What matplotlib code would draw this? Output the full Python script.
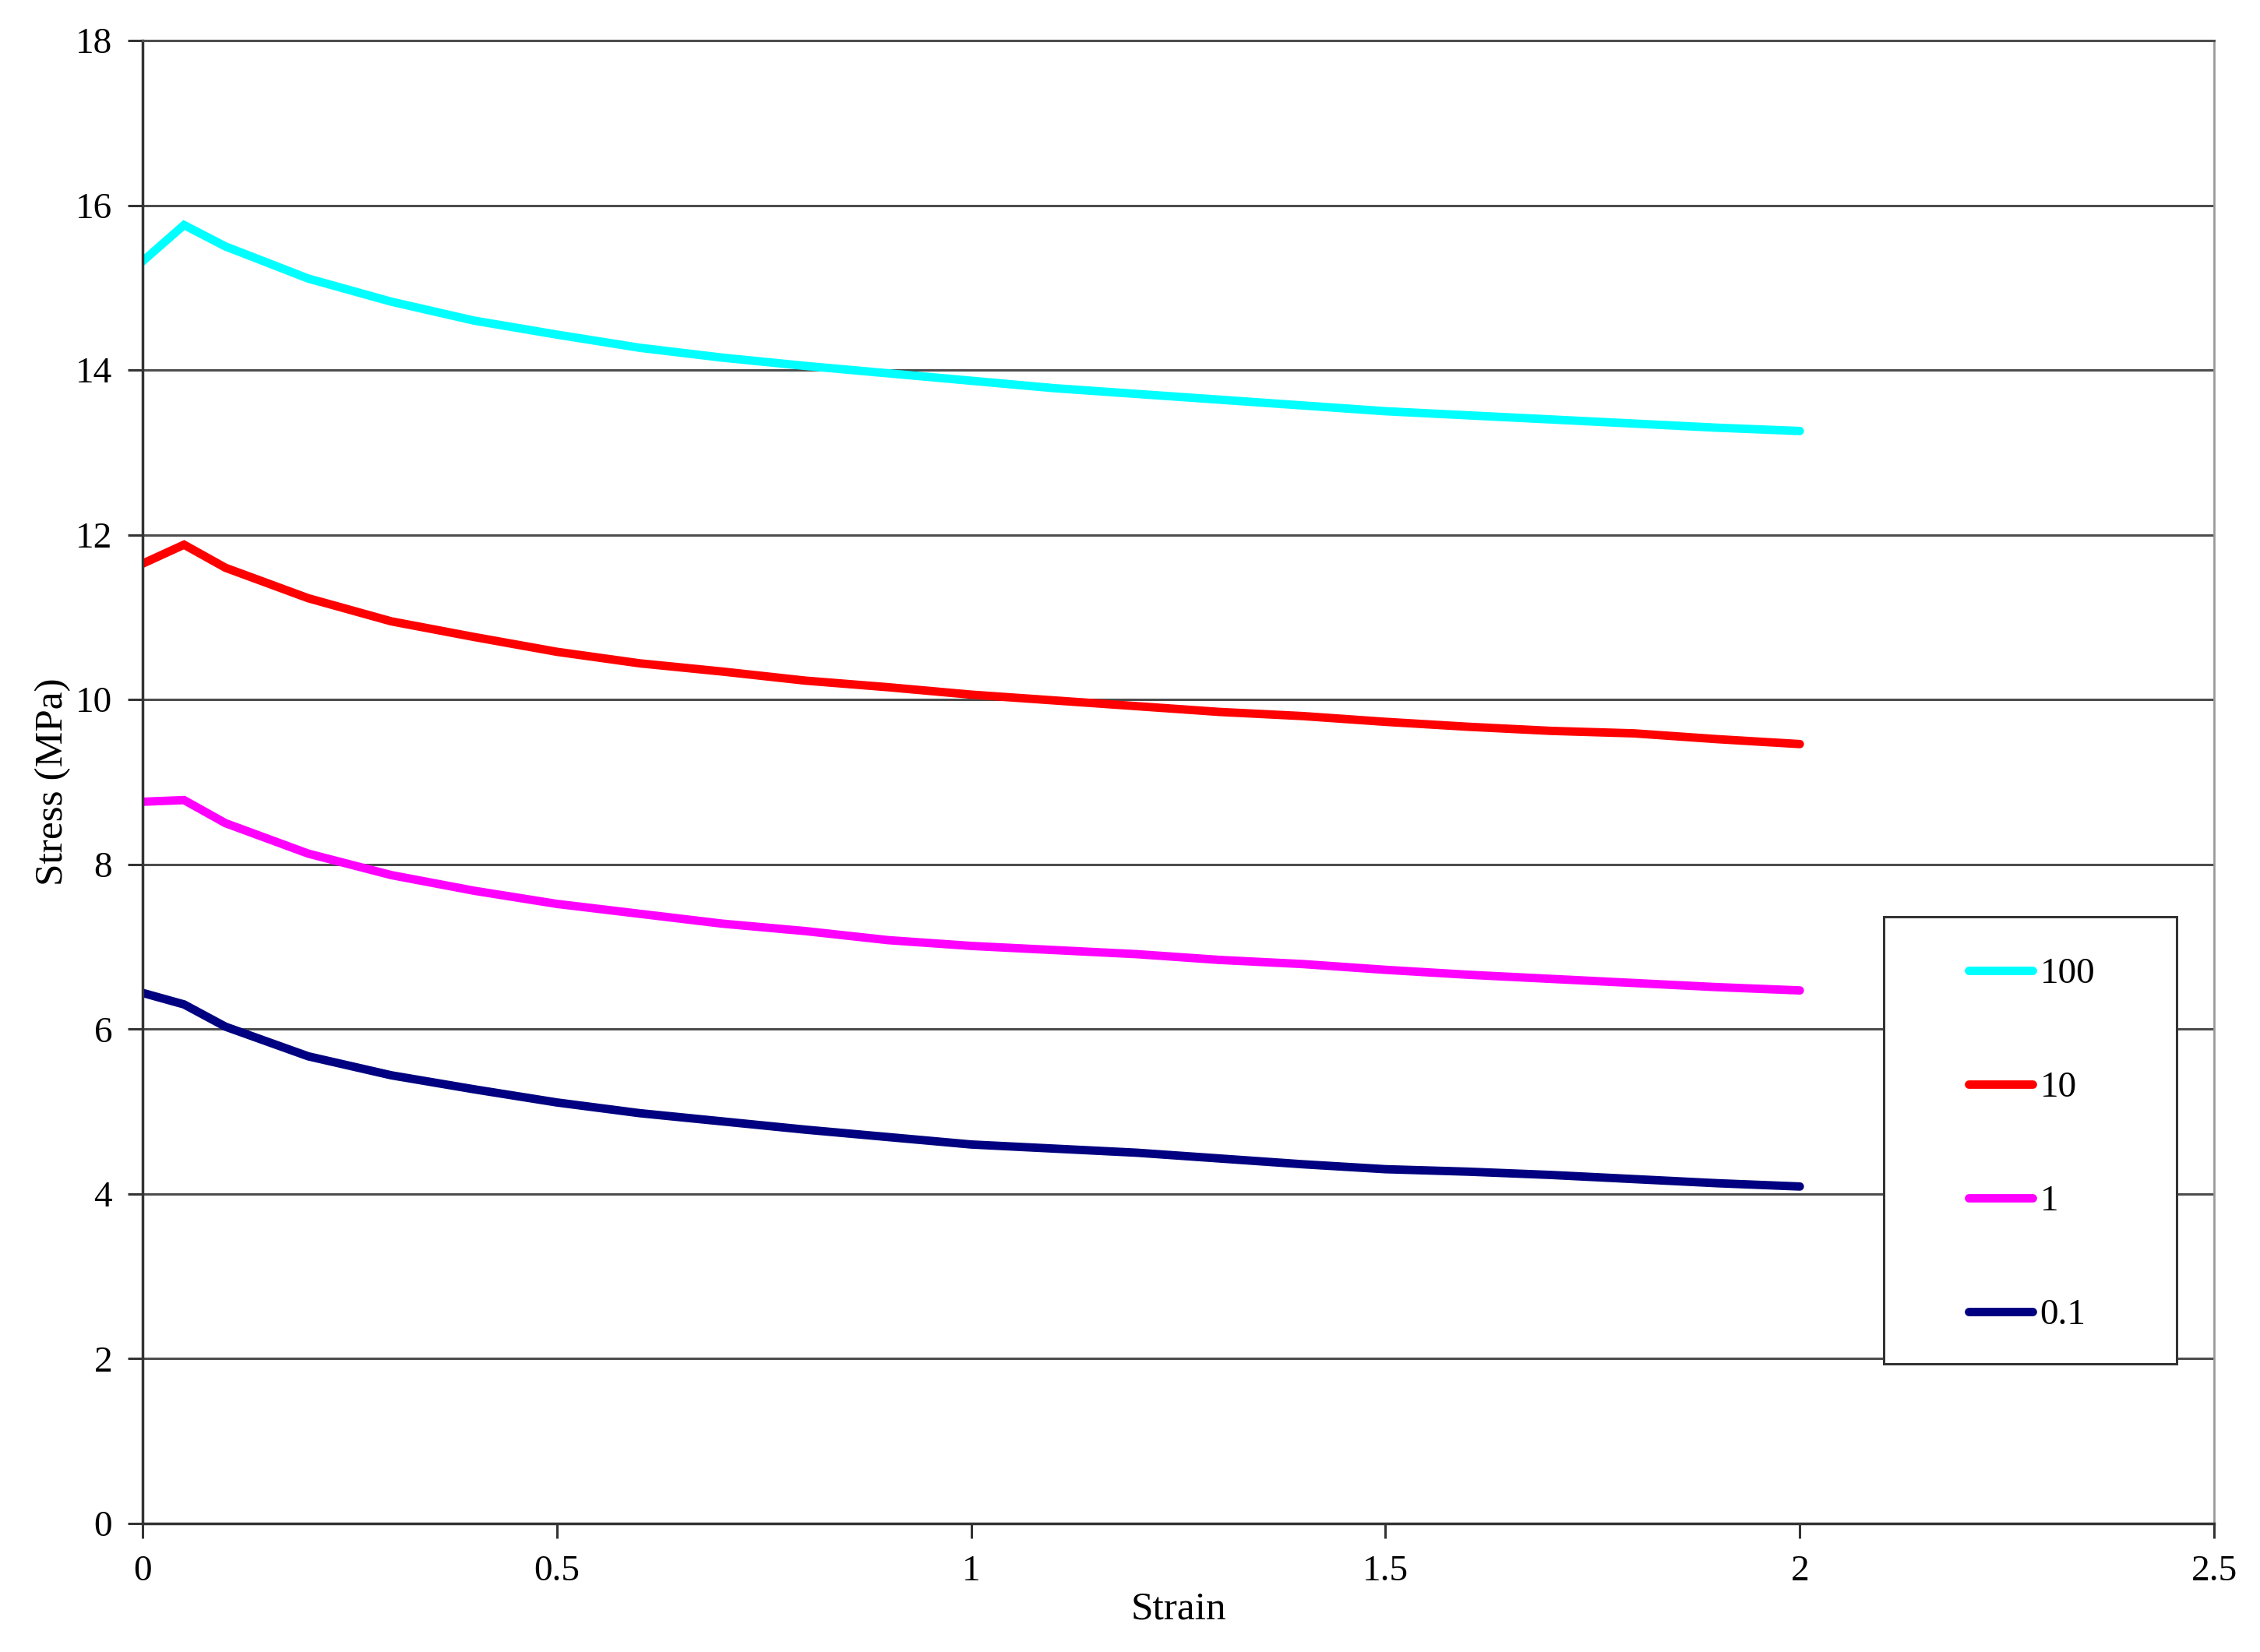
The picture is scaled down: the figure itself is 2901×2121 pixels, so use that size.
import numpy as np
import matplotlib
matplotlib.use('Agg')
from matplotlib import pyplot as plt
from matplotlib.patches import Rectangle

strain = [0, 0.05, 0.1, 0.2, 0.3, 0.4, 0.5, 0.6, 0.7, 0.8, 0.9, 1.0,
          1.1, 1.2, 1.3, 1.4, 1.5, 1.6, 1.7, 1.8, 1.9, 2.0]

s100 = [15.32, 15.76, 15.50, 15.11, 14.83, 14.60, 14.43, 14.27, 14.15, 14.05, 13.96, 13.87,
        13.78, 13.71, 13.64, 13.57, 13.50, 13.45, 13.40, 13.35, 13.30, 13.26]
s10 = [11.65, 11.88, 11.60, 11.23, 10.95, 10.76, 10.58, 10.44, 10.34, 10.23, 10.15, 10.06,
       9.99, 9.92, 9.85, 9.80, 9.73, 9.67, 9.62, 9.59, 9.52, 9.46]
s1 = [8.76, 8.78, 8.50, 8.13, 7.87, 7.68, 7.52, 7.40, 7.28, 7.19, 7.08, 7.01,
      6.96, 6.91, 6.84, 6.79, 6.72, 6.66, 6.61, 6.56, 6.51, 6.47]
s01 = [6.44, 6.30, 6.03, 5.67, 5.44, 5.27, 5.11, 4.98, 4.88, 4.78, 4.69, 4.60,
       4.55, 4.50, 4.43, 4.36, 4.30, 4.27, 4.23, 4.18, 4.13, 4.09]

labels = ['100', '10', '1', '0.1']
colors = ['#00ffff', '#ff0000', '#ff00ff', '#000080']

plt.rcParams['font.family'] = ['Liberation Serif', 'DejaVu Serif']

W, H = 2901, 2121
fig = plt.figure(figsize=(W / 100, H / 100), dpi=100)
ax = fig.add_axes([0.0631, 0.0778, 0.9166, 0.8977])

for ys, lab, c in zip([s100, s10, s1, s01], labels, colors):
    ax.plot(strain, ys, color=c, lw=7.8, label=lab, solid_capstyle='round',
            solid_joinstyle='miter')

ax.set_xlim(0, 2.5)
ax.set_ylim(0, 18)
ax.set_xticks(np.arange(0, 2.51, 0.5))
ax.set_xticklabels(['0', '0.5', '1', '1.5', '2', '2.5'])
ax.set_yticks(np.arange(0, 18.1, 2))
ax.yaxis.grid(True, color='#4d4d4d', lw=2.2)
ax.set_axisbelow(True)

for sp in ['left', 'bottom']:
    ax.spines[sp].set_color('#333333')
    ax.spines[sp].set_linewidth(2.5)
ax.spines['top'].set_color('#4d4d4d')
ax.spines['top'].set_linewidth(2.2)
ax.spines['right'].set_color('#999999')
ax.spines['right'].set_linewidth(2)

ax.tick_params(axis='both', direction='out', length=14, width=2.2, color='#333333',
               labelsize=34)
ax.tick_params(axis='x', pad=15)
ax.tick_params(axis='y', pad=14)

ax.set_xlabel('Strain', fontsize=37, labelpad=3)
ax.set_ylabel('Stress (MPa)', fontsize=37, labelpad=4)

# legend box (drawn separately to get the wide frame of the original)
box = Rectangle((2418 / W, 1 - 1751 / H), 376 / W, 574 / H, transform=fig.transFigure,
                facecolor='white', edgecolor='#333333', lw=2.2, zorder=4, clip_on=False)
ax.add_patch(box)

leg = ax.legend(loc='upper left', bbox_to_anchor=(2527 / W, 1 - 1229 / H),
                bbox_transform=fig.transFigure, fontsize=34, frameon=False,
                handlelength=1.74, handletextpad=0.2, labelspacing=2.18,
                borderpad=0, borderaxespad=0)
leg.set_zorder(6)
for line in leg.get_lines():
    line.set_solid_capstyle('round')

fig.savefig('out.png', dpi=100)
